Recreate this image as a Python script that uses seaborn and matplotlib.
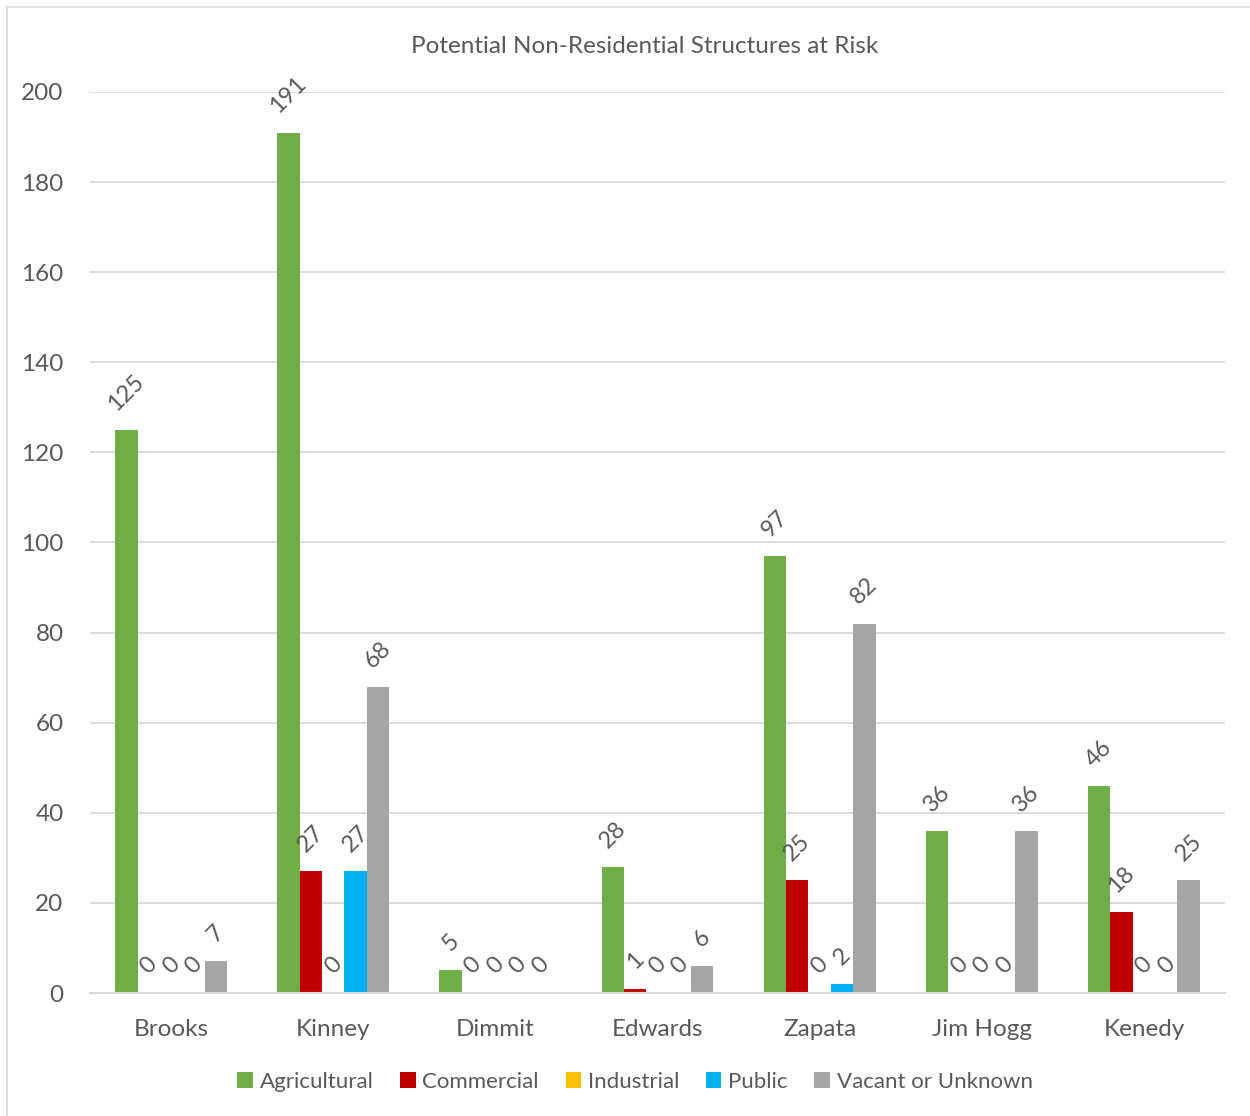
import matplotlib
matplotlib.use("Agg")
import matplotlib.pyplot as plt
import seaborn as sns
import pandas as pd
from matplotlib.patches import Rectangle

counties = ["Brooks", "Kinney", "Dimmit", "Edwards", "Zapata", "Jim Hogg", "Kenedy"]
types = ["Agricultural", "Commercial", "Industrial", "Public", "Vacant or Unknown"]
agricultural = [125, 191, 5, 28, 97, 36, 46]
commercial = [0, 27, 0, 1, 25, 0, 18]
industrial = [0, 0, 0, 0, 0, 0, 0]
public = [0, 27, 0, 0, 2, 0, 0]
vacant = [7, 68, 0, 6, 82, 36, 25]
colors = ["#70AD47", "#C00000", "#FFC000", "#00B0F0", "#A5A5A5"]
yticks = [0, 20, 40, 60, 80, 100, 120, 140, 160, 180, 200]

series = [agricultural, commercial, industrial, public, vacant]
rows = []
for t, vals in zip(types, series):
    for c, v in zip(counties, vals):
        rows.append({"County": c, "Type": t, "Count": v})
df = pd.DataFrame(rows)

sns.set_theme(style="white")
FONT = ["Lato", "DejaVu Sans"]
plt.rcParams["font.family"] = FONT
TXT = "#595959"

fig = plt.figure(figsize=(12.5, 11.16), dpi=100)
ax = fig.add_axes([0.072, 0.1102, 0.908, 0.8074])

sns.barplot(data=df, x="County", y="Count", hue="Type", order=counties,
            hue_order=types, palette=dict(zip(types, colors)), width=0.69,
            ax=ax, errorbar=None, saturation=1, edgecolor="none")

for cont in ax.containers:
    ax.bar_label(cont, fmt="%g", rotation=45, padding=11, fontsize=17, color=TXT)

ax.set_ylim(0, 200)
ax.set_yticks(yticks)
ax.set_xlim(-0.5, len(counties) - 0.5)
ax.yaxis.grid(True, color="#D9D9D9", linewidth=1.3)
ax.set_axisbelow(True)
for s in ["top", "right", "left"]:
    ax.spines[s].set_visible(False)
ax.spines["bottom"].set_color("#D9D9D9")
ax.spines["bottom"].set_linewidth(1.5)
ax.tick_params(axis="both", length=0, colors=TXT)
ax.tick_params(axis="x", pad=19, labelsize=17.5)
ax.tick_params(axis="y", pad=19, labelsize=17.5)
ax.set_xlabel("")
ax.set_ylabel("")

fig.text(0.516, 0.9585, "Potential Non-Residential Structures at Risk",
         ha="center", va="center", fontsize=17.5, color=TXT)

handles, labels = ax.get_legend_handles_labels()
if ax.legend_:
    ax.legend_.remove()
fig.legend(handles, labels, loc="center", bbox_to_anchor=(0.508, 0.0305), ncol=5,
           frameon=False, fontsize=16, labelcolor=TXT, handlelength=0.7,
           handleheight=0.7, handletextpad=0.3, columnspacing=1.2)

fig.patches.append(Rectangle((7 / 1250, -0.01), 1.2, 1 - 7 / 1116 + 0.01,
                             transform=fig.transFigure, fill=False,
                             edgecolor="#D9D9D9", linewidth=1.2))

fig.savefig("out.png", dpi=100, facecolor="white")
